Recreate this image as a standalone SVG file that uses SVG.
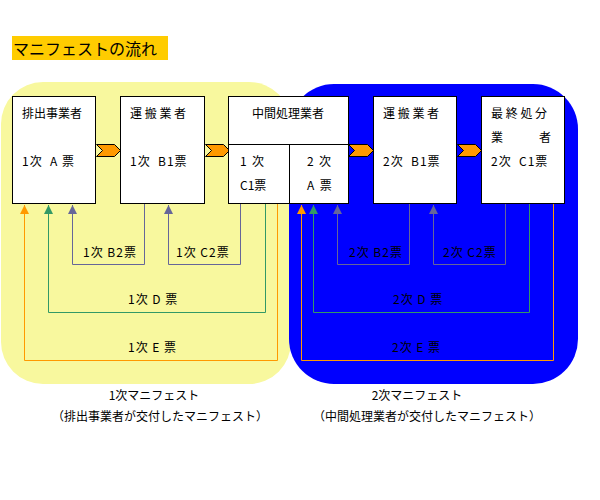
<svg xmlns="http://www.w3.org/2000/svg" width="600" height="500" viewBox="0 0 600 500">
<style>
text{font-family:"Noto Sans CJK JP","Noto Sans",sans-serif;font-size:12px;fill:#000;white-space:pre}
.ls{letter-spacing:1px}
.box{fill:#fff;stroke:#000;stroke-width:1}
.chev{fill:#ff9900;stroke:#000;stroke-width:1}
.ln{fill:none;stroke-width:1}
.o{stroke:#ff9900}
.g{stroke:#339966}
.p{stroke:#666699}
.mid{text-anchor:middle}
</style>
<defs>
<marker id="ao" markerUnits="userSpaceOnUse" markerWidth="10" markerHeight="9" refX="9" refY="4.5" orient="auto"><path d="M0,0 L9,4.5 L0,9 z" fill="#ff9900"/></marker>
<marker id="ag" markerUnits="userSpaceOnUse" markerWidth="10" markerHeight="9" refX="9" refY="4.5" orient="auto"><path d="M0,0 L9,4.5 L0,9 z" fill="#339966"/></marker>
<marker id="ap" markerUnits="userSpaceOnUse" markerWidth="10" markerHeight="9" refX="9" refY="4.5" orient="auto"><path d="M0,0 L9,4.5 L0,9 z" fill="#666699"/></marker>
</defs>
<rect width="600" height="500" fill="#fff"/>
<g id="title">
<rect x="12" y="36" width="156" height="24" fill="#ffcc00"/>
<text x="13" y="55" style="font-size:16px">マニフェストの流れ</text>
</g>
<g id="region1">
<rect x="1" y="82" width="290" height="302" rx="42" ry="42" fill="#f8f89e"/>
</g>
<g id="region2">
<rect x="289" y="84" width="289" height="300" rx="45" ry="45" fill="#0000ff"/>
</g>
<g id="connectors">
<polyline class="ln o" points="277.5,203 277.5,360.5 24.5,360.5 24.5,205" marker-end="url(#ao)"/>
<polyline class="ln g" points="265.5,203 265.5,312.5 48.5,312.5 48.5,205" marker-end="url(#ag)"/>
<polyline class="ln p" points="144.5,203 144.5,264.5 72.5,264.5 72.5,205" marker-end="url(#ap)"/>
<polyline class="ln p" points="240.5,203 240.5,264.5 168.5,264.5 168.5,205" marker-end="url(#ap)"/>
<polyline class="ln o" points="553.5,203 553.5,360.5 301.5,360.5 301.5,205" marker-end="url(#ao)"/>
<polyline class="ln g" points="529.5,203 529.5,312.5 313.5,312.5 313.5,205" marker-end="url(#ag)"/>
<polyline class="ln p" points="409.5,203 409.5,264.5 337.5,264.5 337.5,205" marker-end="url(#ap)"/>
<polyline class="ln p" points="505.5,203 505.5,264.5 433.5,264.5 433.5,205" marker-end="url(#ap)"/>
<polygon class="chev" points="96.5,144.5 114.5,144.5 120.5,150.5 114.5,156.5 96.5,156.5 102.5,150.5"/>
<polygon class="chev" points="205.5,144.5 223.5,144.5 229.5,150.5 223.5,156.5 205.5,156.5 211.5,150.5"/>
<polygon class="chev" points="348.5,144.5 367.5,144.5 373.5,150.5 367.5,156.5 348.5,156.5 354.5,150.5"/>
<polygon class="chev" points="457.5,144.5 475.5,144.5 481.5,150.5 475.5,156.5 457.5,156.5 463.5,150.5"/>
<text x="83" y="257" class="ls">1次 B2票</text>
<text x="176" y="257" class="ls">1次 C2票</text>
<text x="128" y="304" class="ls">1次 D 票</text>
<text x="128" y="352" class="ls">1次 E 票</text>
<text x="349" y="257" class="ls">2次 B2票</text>
<text x="443" y="257" class="ls">2次 C2票</text>
<text x="393" y="304" class="ls">2次 D 票</text>
<text x="392" y="352" class="ls">2次 E 票</text>
</g>
<g id="node1">
<rect class="box" x="12.5" y="96.5" width="83" height="107"/>
<text x="22" y="118">排出事業者</text>
<text x="22" y="166" class="ls">1次  A 票</text>
</g>
<g id="node2">
<rect class="box" x="120.5" y="96.5" width="84" height="107"/>
<text x="130" y="118">運 搬 業 者</text>
<text x="130" y="166" class="ls">1次  B1票</text>
</g>
<g id="node3">
<rect class="box" x="228.5" y="96.5" width="120" height="107"/>
<line x1="228.5" y1="144.5" x2="348.5" y2="144.5" stroke="#000"/>
<line x1="289.5" y1="144.5" x2="289.5" y2="203.5" stroke="#000"/>
<text x="288" y="118" class="mid">中間処理業者</text>
<text x="240" y="166">1  次</text>
<text x="240" y="190">C1票</text>
<text x="307" y="166">2  次</text>
<text x="307" y="190">A  票</text>
</g>
<g id="node4">
<rect class="box" x="373.5" y="96.5" width="83" height="107"/>
<text x="383" y="118">運 搬 業 者</text>
<text x="383" y="166" class="ls">2次  B1票</text>
</g>
<g id="node5">
<rect class="box" x="481.5" y="96.5" width="83" height="107"/>
<text x="491" y="118">最 終 処 分</text>
<text x="491" y="142">業　　　者</text>
<text x="491" y="166" class="ls">2次  C1票</text>
</g>
<g id="captions">
<text x="154" y="400" class="mid">1次マニフェスト</text>
<text x="160" y="421" class="mid">（排出事業者が交付したマニフェスト）</text>
<text x="417" y="400" class="mid">2次マニフェスト</text>
<text x="427" y="421" class="mid">（中間処理業者が交付したマニフェスト）</text>
</g>
</svg>
